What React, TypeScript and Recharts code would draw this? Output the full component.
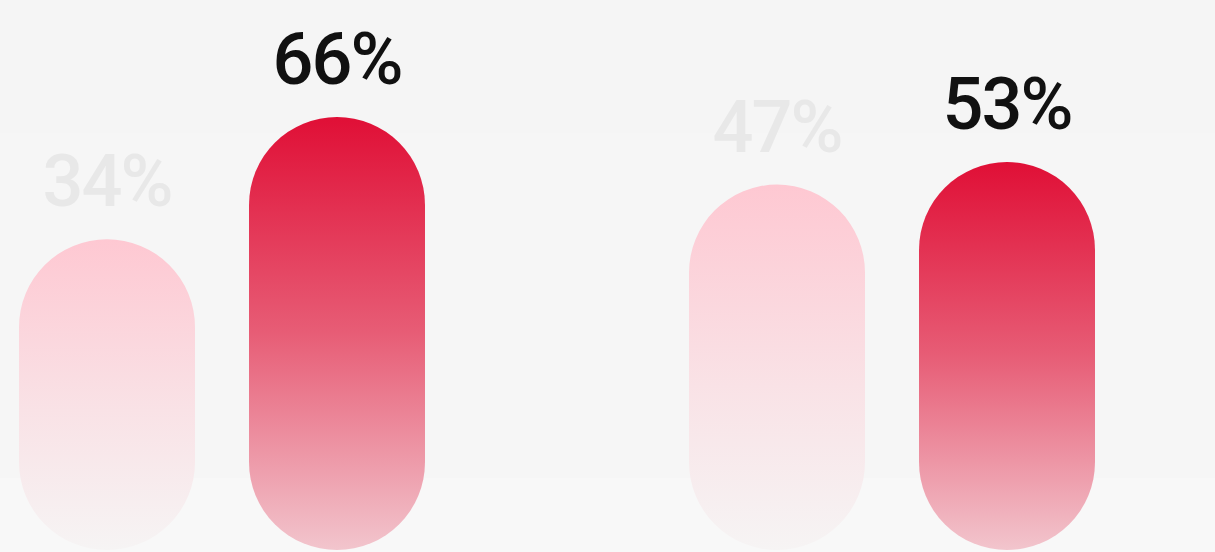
import React from 'react';
import { BarChart, Bar, XAxis, YAxis, LabelList } from 'recharts';

const categories = ['Group A', 'Group B'];
const lightValues = [34, 47];
const redValues = [66, 53];

const data = categories.map((name, i) => ({
  name,
  light: lightValues[i],
  red: redValues[i],
}));

const fmt = (v: any) => `${v}%`;

export default function App() {
  return (
    <div
      style={{
        position: 'absolute',
        left: 0,
        top: 0,
        width: 1215,
        height: 552,
        overflow: 'hidden',
        background:
          'linear-gradient(to bottom, #f5f5f5 0px, #f5f5f5 133px, #f6f6f6 133px, #f6f6f6 478px, #f8f8f8 478px, #f8f8f8 552px)',
      }}
    >
      <div style={{ position: 'absolute', left: -113, top: 0 }}>
        <BarChart
          width={1340}
          height={552}
          data={data}
          margin={{ top: 17, right: 0, bottom: 2, left: 0 }}
          barSize={176}
          barGap={54}
        >
          <defs>
            <linearGradient id="gradLight" x1="0" y1="0" x2="0" y2="1">
              <stop offset="0%" stopColor="#fec8d2" />
              <stop offset="55%" stopColor="#f9e2e6" />
              <stop offset="100%" stopColor="#f6f4f4" />
            </linearGradient>
            <linearGradient id="gradRed" x1="0" y1="0" x2="0" y2="1">
              <stop offset="0%" stopColor="#e00f36" />
              <stop offset="50%" stopColor="#e75d76" />
              <stop offset="100%" stopColor="#f2c5cd" />
            </linearGradient>
          </defs>
          <XAxis dataKey="name" hide />
          <YAxis hide scale="sqrt" domain={[0, 100]} />
          <Bar
            dataKey="light"
            fill="url(#gradLight)"
            radius={[88, 88, 88, 88]}
            isAnimationActive={false}
          >
            <LabelList
              dataKey="light"
              position="top"
              offset={33}
              formatter={fmt}
              fill="#e8e8e8"
              style={{ fontFamily: 'Roboto', fontSize: 72, fontWeight: 500, letterSpacing: -2 }}
            />
          </Bar>
          <Bar
            dataKey="red"
            fill="url(#gradRed)"
            radius={[88, 88, 88, 88]}
            isAnimationActive={false}
          >
            <LabelList
              dataKey="red"
              position="top"
              offset={33}
              formatter={fmt}
              fill="#111111"
              style={{ fontFamily: 'Roboto', fontSize: 72, fontWeight: 500, letterSpacing: -2 }}
            />
          </Bar>
        </BarChart>
      </div>
    </div>
  );
}
